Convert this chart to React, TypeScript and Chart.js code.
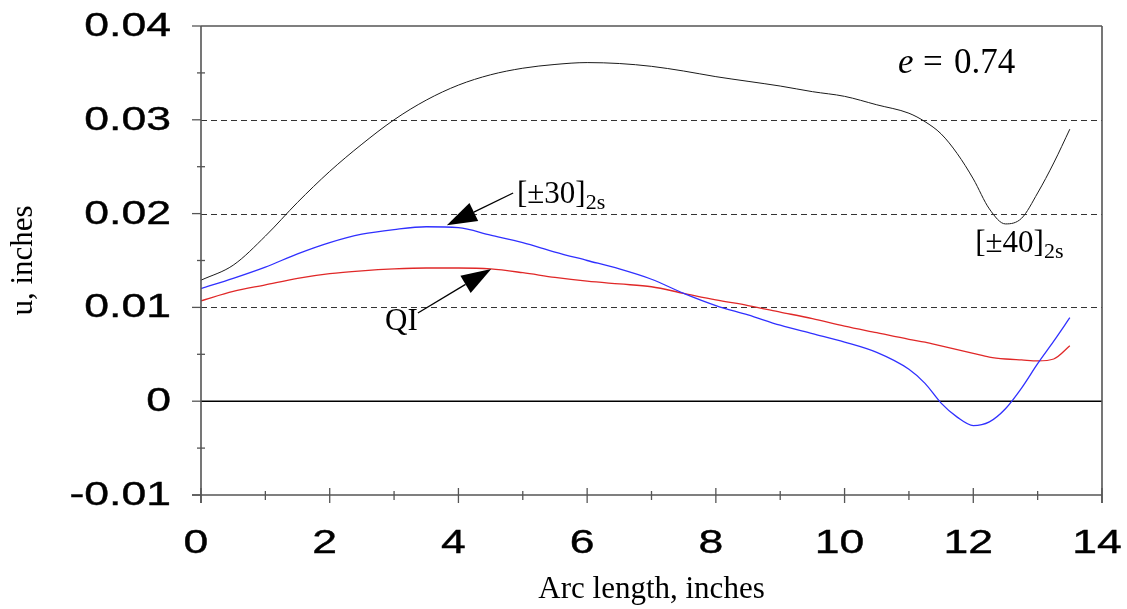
import React, { useEffect, useRef } from 'react';
import { Chart, registerables } from 'chart.js';

Chart.register(...registerables);

// Arc length, inches
const arcLength = [0, 0.5, 1, 1.5, 2, 2.5, 3, 3.5, 4, 4.5, 5, 5.5, 6, 6.5, 7, 7.5, 8, 8.5, 9, 9.5, 10, 10.5, 11, 11.25, 11.5, 11.75, 12, 12.25, 12.5, 12.75, 13, 13.25, 13.5];

// [±40]2s
const u40 = [0.0129, 0.0145, 0.0176, 0.0212, 0.0245, 0.0274, 0.0300, 0.0321, 0.0337, 0.0348, 0.0355, 0.0359, 0.0361, 0.0360, 0.0357, 0.0352, 0.0346, 0.0341, 0.0336, 0.0330, 0.0325, 0.0316, 0.0307, 0.0298, 0.0285, 0.0264, 0.0237, 0.0205, 0.0189, 0.0195, 0.0222, 0.0254, 0.0290];

// [±30]2s
const u30 = [0.0120, 0.0131, 0.0143, 0.0157, 0.0169, 0.0178, 0.0183, 0.0186, 0.0185, 0.0177, 0.0169, 0.0159, 0.0150, 0.0141, 0.0130, 0.0115, 0.0102, 0.0092, 0.0081, 0.0072, 0.0063, 0.0052, 0.0034, 0.0019, -0.0002, -0.0017, -0.0026, -0.0022, -0.0008, 0.0014, 0.0040, 0.0064, 0.0089];

// QI
const uQI = [0.0107, 0.0117, 0.0124, 0.0131, 0.0136, 0.0139, 0.0141, 0.0142, 0.0142, 0.0141, 0.0137, 0.0132, 0.0128, 0.0125, 0.0122, 0.0115, 0.0108, 0.0102, 0.0095, 0.0088, 0.0080, 0.0073, 0.0066, 0.0063, 0.0059, 0.0055, 0.0051, 0.0047, 0.0045, 0.0044, 0.0043, 0.0045, 0.0059];

const xTickValues = [0, 2, 4, 6, 8, 10, 12, 14];
const xTickLabels = ['0', '2', '4', '6', '8', '10', '12', '14'];
const xMinorTicks = [1, 3, 5, 7, 9, 11, 13];
const yTickValues = [-0.01, 0, 0.01, 0.02, 0.03, 0.04];
const yTickLabels = ['-0.01', '0', '0.01', '0.02', '0.03', '0.04'];
const yMinorTicks = [-0.005, 0.005, 0.015, 0.025, 0.035];
const dashedGridValues = [0.01, 0.02, 0.03];

const SANS = '"Liberation Sans", Arial, sans-serif';
const SERIF = '"Liberation Serif", "Times New Roman", serif';

function drawArrow(ctx: CanvasRenderingContext2D, x1: number, y1: number, x2: number, y2: number) {
  const headLen = 30;
  const headHalf = 10;
  const ang = Math.atan2(y2 - y1, x2 - x1);
  const bx = x2 - headLen * Math.cos(ang);
  const by = y2 - headLen * Math.sin(ang);
  ctx.save();
  ctx.strokeStyle = '#000';
  ctx.fillStyle = '#000';
  ctx.lineWidth = 1.3;
  ctx.beginPath();
  ctx.moveTo(x1, y1);
  ctx.lineTo(bx, by);
  ctx.stroke();
  ctx.beginPath();
  ctx.moveTo(x2, y2);
  ctx.lineTo(bx + headHalf * Math.sin(ang), by - headHalf * Math.cos(ang));
  ctx.lineTo(bx - headHalf * Math.sin(ang), by + headHalf * Math.cos(ang));
  ctx.closePath();
  ctx.fill();
  ctx.restore();
}

function drawLabelWithSub(ctx: CanvasRenderingContext2D, main: string, sub: string, x: number, y: number) {
  ctx.save();
  ctx.fillStyle = '#000';
  ctx.textAlign = 'left';
  ctx.textBaseline = 'alphabetic';
  ctx.font = `31px ${SERIF}`;
  ctx.fillText(main, x, y);
  const w = ctx.measureText(main).width;
  ctx.font = `22px ${SERIF}`;
  ctx.fillText(sub, x + w, y + 6);
  ctx.restore();
}

const framePlugin = {
  id: 'framePlugin',
  beforeDatasetsDraw(chart: any) {
    const { ctx, chartArea } = chart;
    const ys = chart.scales.y;
    ctx.save();
    ctx.strokeStyle = '#333';
    ctx.lineWidth = 1;
    ctx.setLineDash([6, 4]);
    dashedGridValues.forEach((v) => {
      const py = Math.round(ys.getPixelForValue(v)) + 0.5;
      ctx.beginPath();
      ctx.moveTo(chartArea.left, py);
      ctx.lineTo(chartArea.right, py);
      ctx.stroke();
    });
    ctx.setLineDash([]);
    ctx.strokeStyle = '#000';
    ctx.lineWidth = 1.5;
    const p0 = ys.getPixelForValue(0);
    ctx.beginPath();
    ctx.moveTo(chartArea.left, p0);
    ctx.lineTo(chartArea.right, p0);
    ctx.stroke();
    ctx.restore();
  },
  afterDatasetsDraw(chart: any) {
    const { ctx, chartArea } = chart;
    const xs = chart.scales.x;
    const ys = chart.scales.y;
    const { left, right, top, bottom } = chartArea;
    ctx.save();
    // frame
    ctx.strokeStyle = '#555';
    ctx.lineWidth = 1.6;
    ctx.beginPath();
    ctx.moveTo(left, top);
    ctx.lineTo(right, top);
    ctx.moveTo(right, top);
    ctx.lineTo(right, bottom + 8);
    ctx.moveTo(left, top);
    ctx.lineTo(left, bottom + 8);
    ctx.moveTo(left - 9, bottom);
    ctx.lineTo(right, bottom);
    ctx.stroke();
    // x ticks
    ctx.lineWidth = 1.3;
    xTickValues.forEach((v) => {
      const px = xs.getPixelForValue(v);
      ctx.beginPath();
      ctx.moveTo(px, bottom - 7);
      ctx.lineTo(px, bottom + 8);
      ctx.stroke();
    });
    xMinorTicks.forEach((v) => {
      const px = xs.getPixelForValue(v);
      ctx.beginPath();
      ctx.moveTo(px, bottom - 4);
      ctx.lineTo(px, bottom + 5);
      ctx.stroke();
    });
    // y ticks
    yTickValues.forEach((v) => {
      const py = ys.getPixelForValue(v);
      ctx.beginPath();
      ctx.moveTo(left - 9, py);
      ctx.lineTo(left, py);
      ctx.stroke();
    });
    yMinorTicks.forEach((v) => {
      const py = ys.getPixelForValue(v);
      ctx.beginPath();
      ctx.moveTo(left - 4, py);
      ctx.lineTo(left + 4, py);
      ctx.stroke();
    });
    // tick labels (horizontally widened, as in the reference)
    ctx.fillStyle = '#000';
    ctx.strokeStyle = '#000';
    ctx.lineWidth = 0.4;
    ctx.font = `33px ${SANS}`;
    const sx = 1.35;
    yTickValues.forEach((v, i) => {
      const py = ys.getPixelForValue(v);
      ctx.save();
      ctx.translate(left - 30, py + 1);
      ctx.scale(sx, 1);
      ctx.textAlign = 'right';
      ctx.textBaseline = 'middle';
      ctx.fillText(yTickLabels[i], 0, 0);
      ctx.strokeText(yTickLabels[i], 0, 0);
      ctx.restore();
    });
    xTickValues.forEach((v, i) => {
      const px = xs.getPixelForValue(v);
      ctx.save();
      ctx.translate(px - 5, bottom + 58);
      ctx.scale(sx, 1);
      ctx.textAlign = 'center';
      ctx.textBaseline = 'alphabetic';
      ctx.fillText(xTickLabels[i], 0, 0);
      ctx.strokeText(xTickLabels[i], 0, 0);
      ctx.restore();
    });
    ctx.restore();

    // annotations
    const X = (v: number) => xs.getPixelForValue(v);
    const Y = (v: number) => ys.getPixelForValue(v);
    ctx.save();
    ctx.fillStyle = '#000';
    ctx.textBaseline = 'alphabetic';
    ctx.textAlign = 'left';
    const ex = X(10.83);
    const ey = Y(0.035);
    ctx.font = `italic 35px ${SERIF}`;
    ctx.fillText('e', ex, ey);
    ctx.font = `35px ${SERIF}`;
    ctx.fillText('=', ex + 25, ey);
    ctx.fillText('0.74', ex + 56, ey);
    ctx.restore();

    drawLabelWithSub(ctx, '[\u00b130]', '2s', X(4.91), Y(0.0211));
    drawLabelWithSub(ctx, '[\u00b140]', '2s', X(12.03), Y(0.0159));
    ctx.save();
    ctx.fillStyle = '#000';
    ctx.font = `31px ${SERIF}`;
    ctx.textAlign = 'left';
    ctx.textBaseline = 'alphabetic';
    ctx.fillText('QI', X(2.86), Y(0.0076));
    ctx.restore();

    drawArrow(ctx, X(4.85), Y(0.0222), X(3.82), Y(0.01876));
    drawArrow(ctx, X(3.37), Y(0.0094), X(4.51), Y(0.0141));
  },
};

export default function App() {
  const canvasRef = useRef<HTMLCanvasElement | null>(null);

  useEffect(() => {
    document.body.style.margin = '0';
    const canvas = canvasRef.current;
    if (!canvas) return;
    const mk = (vals: number[]) => arcLength.map((x, i) => ({ x, y: vals[i] }));
    const chart = new Chart(canvas, {
      type: 'line',
      data: {
        datasets: [
          {
            label: '[±40]2s',
            data: mk(u40),
            borderColor: '#1a1a1a',
            borderWidth: 1,
            pointRadius: 0,
            cubicInterpolationMode: 'monotone',
          },
          {
            label: '[±30]2s',
            data: mk(u30),
            borderColor: '#3030ff',
            borderWidth: 1.3,
            pointRadius: 0,
            cubicInterpolationMode: 'monotone',
          },
          {
            label: 'QI',
            data: mk(uQI),
            borderColor: '#e02828',
            borderWidth: 1.3,
            pointRadius: 0,
            cubicInterpolationMode: 'monotone',
          },
        ],
      },
      options: {
        animation: false,
        responsive: false,
        maintainAspectRatio: false,
        layout: { padding: { top: 26, right: 25, left: 0, bottom: 0 } },
        plugins: {
          legend: { display: false },
          tooltip: { enabled: false },
        },
        scales: {
          x: {
            type: 'linear',
            min: 0,
            max: 14,
            afterBuildTicks: (scale: any) => {
              scale.ticks = xTickValues.map((v) => ({ value: v }));
            },
            afterFit: (scale: any) => {
              scale.height = 114;
            },
            ticks: { display: false },
            grid: { display: false },
            border: { display: false },
            title: {
              display: true,
              text: 'Arc length, inches',
              color: '#000',
              font: { family: SERIF, size: 31 },
              padding: { top: 0, bottom: 1 },
            },
          },
          y: {
            type: 'linear',
            min: -0.01,
            max: 0.04,
            afterBuildTicks: (scale: any) => {
              scale.ticks = yTickValues.map((v) => ({ value: v }));
            },
            afterFit: (scale: any) => {
              scale.width = 201;
            },
            ticks: { display: false },
            grid: { display: false },
            border: { display: false },
            title: {
              display: true,
              text: 'u, inches',
              color: '#000',
              font: { family: SERIF, size: 31 },
              padding: { top: 5, bottom: 0 },
            },
          },
        },
      },
      plugins: [framePlugin],
    } as any);
    return () => chart.destroy();
  }, []);

  return (
    <div style={{ width: 1127, height: 609, background: '#fff' }}>
      <canvas ref={canvasRef} width={1127} height={609} style={{ display: 'block' }} />
    </div>
  );
}
